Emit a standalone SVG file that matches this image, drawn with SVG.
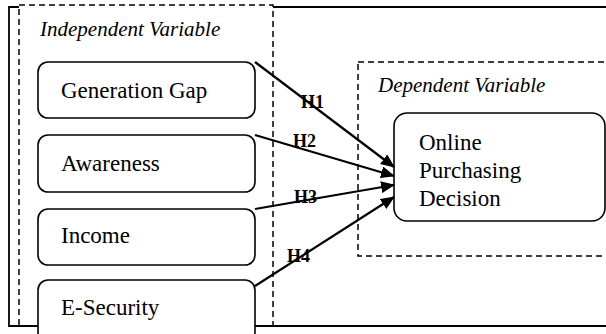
<svg xmlns="http://www.w3.org/2000/svg" width="606" height="334" viewBox="0 0 606 334">
<style>
.box{fill:#fff;stroke:#000;stroke-width:1.6}
.dash{fill:none;stroke:#000;stroke-width:1.5;stroke-dasharray:6 4}
text{font-family:'Liberation Serif','Times New Roman',Times,serif;fill:#000}
.t{font-size:23px}
.ti{font-size:21px;font-style:italic}
.h{font-size:18px;font-weight:bold}
.arr{stroke:#000;stroke-width:2.2;fill:none;marker-end:url(#ah)}
</style>
<defs>
<marker id="ah" markerUnits="userSpaceOnUse" markerWidth="14" markerHeight="12" refX="13" refY="6" orient="auto">
<path d="M0,0 L14,6 L0,12 z" fill="#000"/>
</marker>
</defs>
<rect width="606" height="334" fill="#fff"/>
<g id="frame">
<path d="M19,7 H9 V326 H620 M273,7 H620" fill="none" stroke="#000" stroke-width="1.8"/>
</g>
<g id="independent-group">
<rect class="dash" x="19" y="5" width="254" height="321"/>
<text class="ti" x="40" y="36">Independent Variable</text>
</g>
<g id="dependent-group">
<rect class="dash" x="358" y="62" width="300" height="194"/>
<text class="ti" x="378" y="92">Dependent Variable</text>
</g>
<g id="generation-gap">
<rect class="box" x="38" y="62" width="217" height="56" rx="10"/>
<text class="t" x="61" y="98">Generation Gap</text>
</g>
<g id="awareness">
<rect class="box" x="38" y="135" width="217" height="57" rx="10"/>
<text class="t" x="61" y="171">Awareness</text>
</g>
<g id="income">
<rect class="box" x="38" y="209" width="217" height="56" rx="10"/>
<text class="t" x="61" y="243">Income</text>
</g>
<g id="e-security">
<rect class="box" x="38" y="280" width="217" height="62" rx="10"/>
<text class="t" x="61" y="315">E-Security</text>
</g>
<g id="online-purchasing-decision">
<rect class="box" x="394" y="113" width="211" height="108" rx="13"/>
<text class="t" x="419" y="150">Online</text>
<text class="t" x="419" y="178">Purchasing</text>
<text class="t" x="419" y="206">Decision</text>
</g>
<g id="connectors">
<line class="arr" x1="255" y1="62" x2="394" y2="167"/>
<line class="arr" x1="255" y1="135" x2="394" y2="176"/>
<line class="arr" x1="255" y1="209" x2="394" y2="185"/>
<line class="arr" x1="255" y1="286" x2="394" y2="197"/>
<text class="h" x="301" y="108">H1</text>
<text class="h" x="293" y="147">H2</text>
<text class="h" x="294" y="203">H3</text>
<text class="h" x="287" y="262">H4</text>
</g>
</svg>
